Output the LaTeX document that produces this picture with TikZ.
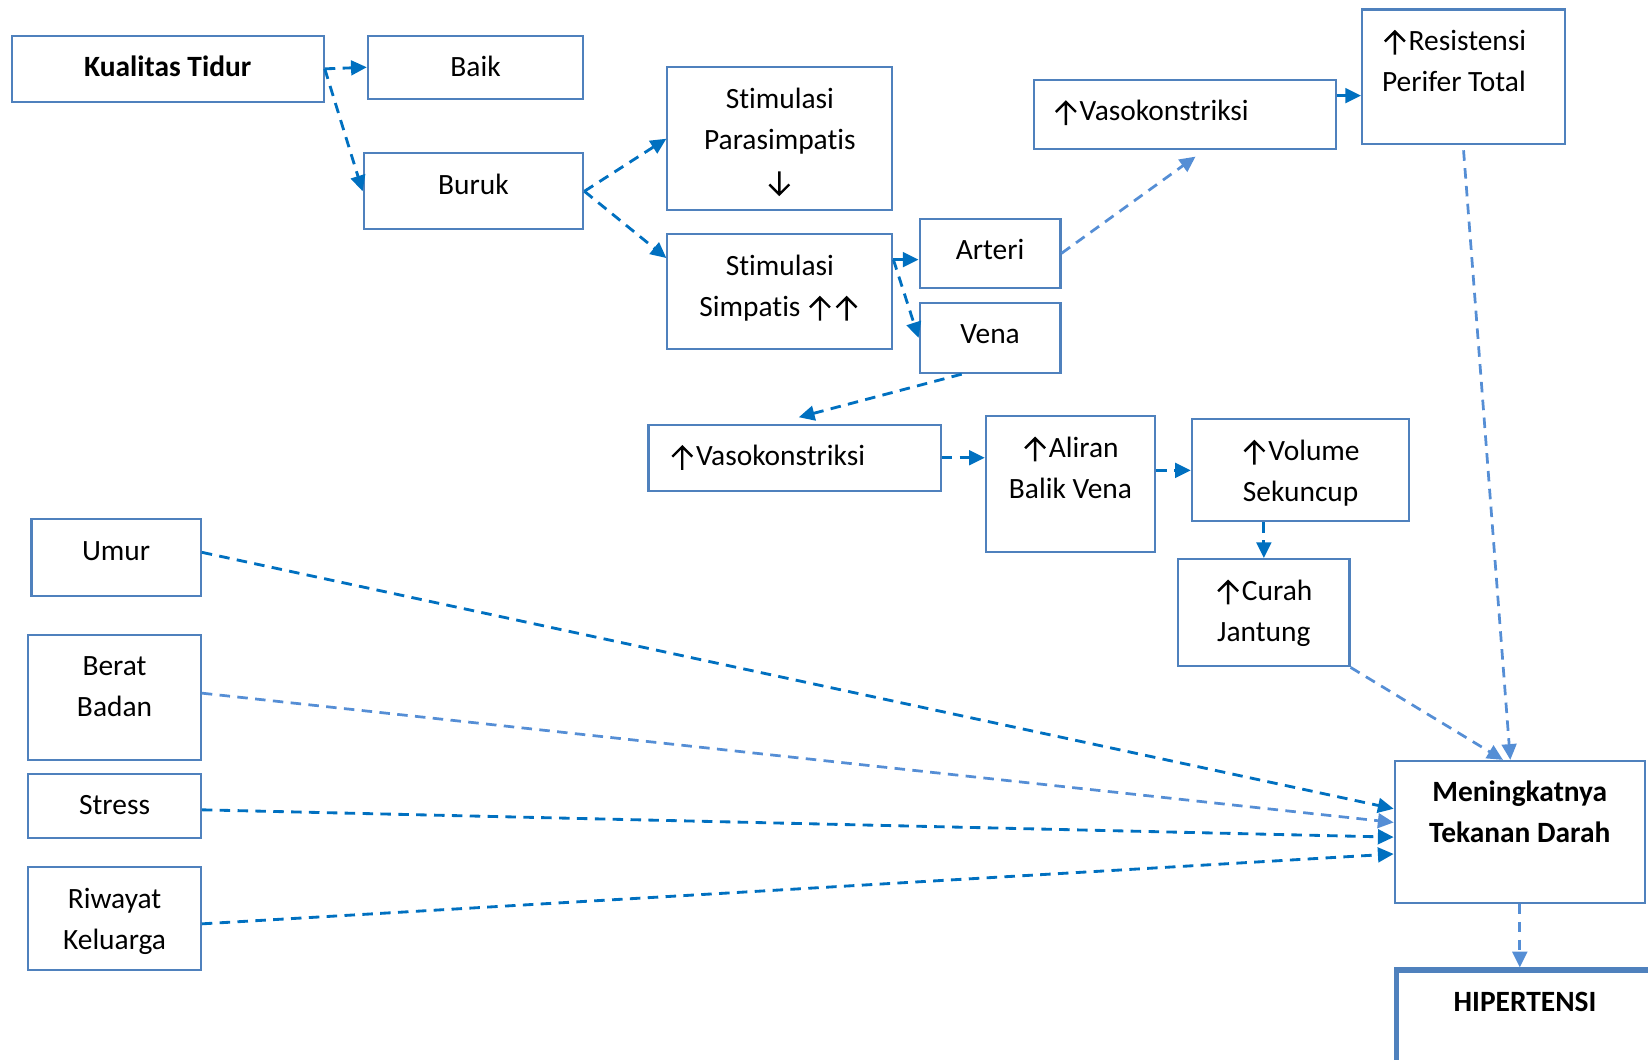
\documentclass[tikz,border=0pt]{standalone}
\usepackage{fontspec}
\setmainfont{Carlito}[Ligatures=NoCommon]
\usetikzlibrary{arrows.meta}

\definecolor{boxblue}{HTML}{4F81BD}
\definecolor{arrdark}{HTML}{0070C0}
\definecolor{arrlight}{HTML}{558ED5}

% text block of a box: width, height, top aligned
\newcommand{\boxtext}[4][\centering]{\parbox[c][#3pt][t]{#2pt}{#1\rule{0pt}{39pt}#4}}
% arrow signs in the text
\newcommand{\up}{\tikz[baseline=0pt, x=1pt, y=1pt] \draw [black, solid, line width=2.3pt] (11, -4) -- (11, 18) (1.5, 8.5) -- (11, 18) -- (20.5, 8.5) (0, 0) (23, 0);}
\newcommand{\down}{\tikz[baseline=0pt, x=1pt, y=1pt] \draw [black, solid, line width=2.3pt] (11, 18) -- (11, -4) (1.5, 5.5) -- (11, -4) -- (20.5, 5.5) (0, 0) (23, 0);}

\begin{document}
\begin{tikzpicture}[
		x=1pt, y=-1pt,
		every node/.style={draw=boxblue, line width=2pt, inner sep=0pt, font=\fontsize{28}{39}\selectfont},
		dk/.style={color=arrdark, line width=2.7pt, dash pattern=on 10pt off 7pt, -{Triangle[length=15pt, width=14pt]}},
		lt/.style={color=arrlight, line width=2.6pt, dash pattern=on 10pt off 7pt, -{Triangle[length=15pt, width=14pt]}}
	]
  \useasboundingbox (0, 0) rectangle (1568, 1008);
  \node (kualitas) at (159.5, 65.5) {\boxtext{297}{63}{\textbf{Kualitas Tidur}}};
  \node (baik) at (452.5, 64) {\boxtext{205}{60}{Baik}};
  \node (buruk) at (450.5, 182) {\boxtext{209}{72}{Buruk}};
  \node (stim_para) at (742, 132) {\boxtext{214}{136}{Stimulasi\\ Parasimpatis\\ \down}};
  \node (stim_simp) at (742, 277.5) {\boxtext{214}{109}{Stimulasi\\ Simpatis \up\up}};
  \node (arteri) at (942, 241) {\boxtext{134}{66}{Arteri}};
  \node (vena) at (942, 321.5) {\boxtext{134}{67}{Vena}};
  \node (vaso_a) at (1127.5, 109) {\boxtext[\raggedright\leftskip=18pt]{287}{66}{\up Vasokonstriksi}};
  \node (resist) at (1392.5, 73) {\boxtext[\raggedright\leftskip=19pt]{193}{128}{\up Resistensi\\ Perifer Total}};
  \node (vaso_b) at (756, 435.5) {\boxtext[\raggedright\leftskip=20pt]{278}{63}{\up Vasokonstriksi}};
  \node (aliran) at (1018.5, 460.5) {\boxtext{161}{129}{\up Aliran\\ Balik Vena}};
  \node (volume) at (1237.5, 447.5) {\boxtext{207}{97}{\up Volume\\ Sekuncup}};
  \node (curah) at (1202.5, 583) {\boxtext{163}{102}{\up Curah\\ Jantung}};
  \node (umur) at (110.5, 530.5) {\boxtext{161}{73}{Umur}};
  \node (berat) at (109, 663.5) {\boxtext{164}{119}{Berat\\ Badan}};
  \node (stress) at (109, 766.5) {\boxtext{164}{61}{Stress}};
  \node (riwayat) at (109, 874) {\boxtext{164}{98}{Riwayat\\ Keluarga}};
  \node (td_naik) at (1446, 791.5) {\boxtext{238}{135}{\textbf{Meningkatnya}\\ \textbf{Tekanan Darah}}};
  \node (hipertensi) [line width=5pt] at (1451, 967) {\boxtext{245}{88}{\textbf{HIPERTENSI}}};
  \coordinate (sa) at ([yshift=-6pt]arteri.west);
  \coordinate (vr) at ([yshift=-18pt]resist.west);
  \draw [dk] (kualitas.east) -- (baik.west);
  \draw [dk] (kualitas.east) -- (buruk.west);
  \draw [dk] (buruk.east) -- (stim_para.west);
  \draw [dk] (buruk.east) -- ([yshift=32pt]stim_simp.west);
  \draw [dk] (stim_simp.east |- sa) -- (sa);
  \draw [dk] (stim_simp.east |- sa) -- (vena.west);
  \draw [lt] (arteri.east) -- ([xshift=10pt, yshift=-6pt]vaso_a.south);
  \draw [dk, solid] (vaso_a.east |- vr) -- (vr);
  \draw [lt] ([yshift=-5pt]resist.south) -- ([xshift=-9pt]td_naik.north);
  \draw [dk] ([xshift=-27pt]vena.south) -- ([xshift=4pt, yshift=6pt]vaso_b.north);
  \draw [dk] (vaso_b.east) -- (vaso_b.east -| aliran.west);
  \draw [dk] (aliran.east |- volume.west) -- (volume.west);
  \draw [dk] (curah.north |- volume.south) -- (curah.north);
  \draw [lt] (curah.south east) -- ([xshift=-16pt]td_naik.north);
  \draw [dk] ([yshift=5pt]umur.east) -- ([yshift=22pt]td_naik.west);
  \draw [lt] ([yshift=4pt]berat.east) -- ([yshift=9pt]td_naik.west);
  \draw [dk] ([yshift=-4pt]stress.east) -- ([yshift=-5pt]td_naik.west);
  \draw [dk] ([yshift=-5pt]riwayat.east) -- ([yshift=-21pt]td_naik.west);
  \draw [lt] (td_naik.south) -- (td_naik.south |- hipertensi.north);
\end{tikzpicture}
\end{document}
